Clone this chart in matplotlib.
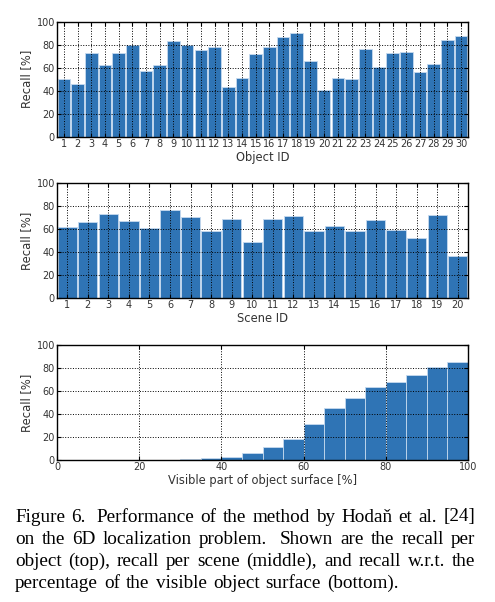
import numpy as np
from matplotlib import pyplot as plt

# recall per object (top)
object_ids = list(range(1, 31))
object_recall = [50, 45.5, 73, 62, 73, 80, 57, 62, 83, 80,
                 75, 78, 43, 51, 72, 78, 87, 90, 65.5, 41,
                 51, 50, 76, 61, 73, 73.5, 56, 63, 84, 87.5]

# recall per scene (middle)
scene_ids = list(range(1, 21))
scene_recall = [61.7, 66.7, 73.6, 67.5, 60.9, 76.8, 70.4, 58.3, 68.7, 49,
                69, 71.9, 58.3, 62.9, 58.8, 67.8, 59.1, 52.2, 72.2, 36.5]

# recall w.r.t. visible fraction (bottom), bins of 5 %
vis_bin_left = list(range(0, 100, 5))
vis_recall = [0, 0, 0, 0, 0, 0.4, 0.6, 1.6, 3, 6.5,
              11, 18, 31.6, 44.9, 54.2, 63.5, 68.1, 73.9, 80.6, 85]

caption_lines = [
    ['Figure', '6.', '', 'Performance', 'of', 'the', 'method', 'by', 'Hodaň', 'et', 'al.', '[24]'],
    ['on', 'the', '6D', 'localization', 'problem.', '', 'Shown', 'are', 'the', 'recall', 'per'],
    ['object', '(top),', 'recall', 'per', 'scene', '(middle),', 'and', 'recall', 'w.r.t.', 'the'],
    ['percentage', 'of', 'the', 'visible', 'object', 'surface', '(bottom).'],
]

BAR_COLOR = '#2f74b5'
EDGE_COLOR = '#c6daef'
TXT = '#333333'
W, H = 495, 602

fig = plt.figure(figsize=(W / 100, H / 100), dpi=100)


def make_axes(top, bottom):
    return fig.add_axes([57 / W, 1 - bottom / H, 411 / W, (bottom - top) / H])


def style(ax, xlabel):
    ax.set_ylim(0, 100)
    ax.set_yticks(range(0, 101, 20))
    ax.grid(True, color='black', linestyle=':', linewidth=0.7)
    ax.set_axisbelow(False)
    ax.tick_params(direction='in', labelsize=7, colors=TXT, length=3,
                   top=True, right=True, pad=1.5)
    ax.tick_params(axis='both', labelcolor=TXT, color='black')
    for s in ax.spines.values():
        s.set_linewidth(1.0)
    ax.set_ylabel('Recall [%]', fontsize=8.3, color=TXT, labelpad=2.5)
    ax.set_xlabel(xlabel, fontsize=8.3, color=TXT, labelpad=1.5)


ax1 = make_axes(21.7, 136.7)
ax1.bar(object_ids, object_recall, 0.92, color=BAR_COLOR,
        edgecolor=EDGE_COLOR, linewidth=0.6)
ax1.set_xlim(0.5, 30.5)
ax1.set_xticks(object_ids)
style(ax1, 'Object ID')

ax2 = make_axes(183.3, 298.3)
ax2.bar(scene_ids, scene_recall, 0.94, color=BAR_COLOR,
        edgecolor=EDGE_COLOR, linewidth=0.6)
ax2.set_xlim(0.5, 20.5)
ax2.set_xticks(scene_ids)
style(ax2, 'Scene ID')

ax3 = make_axes(345, 460)
ax3.bar(vis_bin_left, vis_recall, 5, align='edge', color=BAR_COLOR,
        edgecolor=EDGE_COLOR, linewidth=0.6)
ax3.set_xlim(0, 100)
ax3.set_xticks(range(0, 101, 20))
style(ax3, 'Visible part of object surface [%]')

# justified caption
renderer = fig.canvas.get_renderer()
x0, x1 = 15, 475
baselines = [521.5, 543.5, 565.5, 587.5]
space = None
for li, (words, yb) in enumerate(zip(caption_lines, baselines)):
    texts = [fig.text(0, 1 - yb / H, w, fontsize=13.8, family='Liberation Serif',
                      va='baseline', ha='left', color='black')
             for w in words if w]
    widths = [t.get_window_extent(renderer).width for t in texts]
    # an empty token widens the gap before the next word
    gaps = []
    extra = 0
    for w in words[1:]:
        if w == '':
            extra += 0.8
        else:
            gaps.append(1 + extra)
            extra = 0
    if li < len(caption_lines) - 1:
        unit = (x1 - x0 - sum(widths)) / sum(gaps)
        if space is None:
            space = unit
    else:
        unit = space
    x = x0
    for i, t in enumerate(texts):
        t.set_x(x / W)
        x += widths[i]
        if i < len(gaps):
            x += gaps[i] * unit

plt.savefig('out.png', dpi=100)
